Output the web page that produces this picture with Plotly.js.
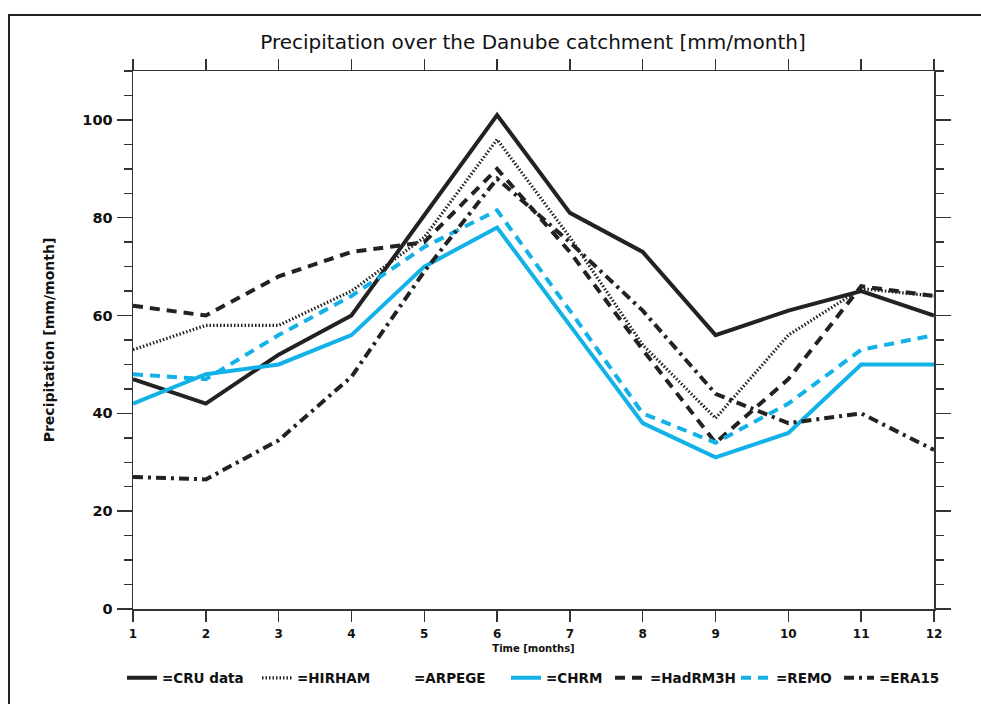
<!DOCTYPE html>
<html>
<head>
<meta charset="utf-8">
<script src="https://cdn.plot.ly/plotly-3.0.1.min.js"></script>
<style>
  html, body { margin: 0; padding: 0; background: #fff; }
  #chart { width: 981px; height: 704px; }
  #frame {
    position: absolute; left: 8px; top: 14px; width: 1000px; height: 720px;
    border-left: 2px solid #222; border-top: 2px solid #222;
    pointer-events: none;
  }
</style>
</head>
<body>
<div id="chart"></div>
<div id="frame"></div>
<script>
// Monthly mean precipitation over the Danube catchment [mm/month]
const months  = [1, 2, 3, 4, 5, 6, 7, 8, 9, 10, 11, 12];
const cru     = [47, 42, 52, 60, 80.5, 101, 81, 73, 56, 61, 65, 60];
const hirham  = [53, 58, 58, 65, 76, 96, 76, 54, 39, 56, 65.5, 64];
const arpege  = [null];
const chrm    = [42, 48, 50, 56, 70, 78, 58, 38, 31, 36, 50, 50];
const hadrm3h = [62, 60, 68, 73, 75, 90, 73, 53, 34, 47, 66, 64];
const remo    = [48, 47, 56, 64, 74, 81.5, 61, 40, 34, 42, 53, 56];
const era15   = [27, 26.5, 34.5, 47.5, 69, 88, 75, 61, 44, 38, 40, 32.5];

const seriesNames = ['=CRU data', '=HIRHAM', '=ARPEGE', '=CHRM', '=HadRM3H', '=REMO', '=ERA15'];
const yTickVals = [0, 20, 40, 60, 80, 100];

const BLACK = '#222222';
const CYAN  = '#12b2e8';
const FONT  = 'DejaVu Sans';

// each series gets its own one-entry legend so the key row can be spaced freely
const legendIds = ['legend', 'legend2', 'legend3', 'legend4', 'legend5', 'legend6', 'legend7'];
const legendLeft = [122, 257, 374, 506, 610, 736, 839];

function line(i, y, color, width, dash) {
  return {
    type: 'scatter', mode: 'lines', name: seriesNames[i], legend: legendIds[i],
    x: y.length === months.length ? months : [null], y: y,
    line: { color: color, width: width, dash: dash },
    hoverinfo: 'skip'
  };
}

const traces = [
  line(0, cru,     BLACK, 4,   'solid'),
  line(1, hirham,  BLACK, 3.2, '1.5px,2px'),
  line(2, arpege,  'rgba(0,0,0,0)', 3, 'solid'),
  line(3, chrm,    CYAN,  4,   'solid'),
  line(4, hadrm3h, BLACK, 4,   '10px,7px'),
  line(5, remo,    CYAN,  4,   '10px,7px'),
  line(6, era15,   BLACK, 4,   '10px,5px,3px,5px')
];

const layout = {
  width: 981, height: 704,
  margin: { l: 133, r: 47, t: 71, b: 95, autoexpand: false },
  paper_bgcolor: '#fff', plot_bgcolor: '#fff',
  showlegend: true,
  title: {
    text: 'Precipitation over the Danube catchment [mm/month]',
    font: { family: FONT, size: 20, color: '#111' },
    x: 0.5433, xanchor: 'center', y: 0.94, yanchor: 'middle'
  },
  xaxis: {
    range: [1, 12], tickmode: 'array', tickvals: months,
    ticktext: months.map(m => '<b>' + m + '</b>'),
    ticks: 'outside', ticklen: 11, tickwidth: 1.5, tickcolor: '#333',
    showline: true, linecolor: '#333', linewidth: 1.5, mirror: 'allticks',
    showgrid: false, zeroline: false,
    tickfont: { family: FONT, size: 12, color: '#111' },
    ticklabelstandoff: 2,
    title: { text: '<b>Time [months]</b>', font: { family: FONT, size: 10, color: '#111' }, standoff: 5 }
  },
  yaxis: {
    range: [0, 110], tickmode: 'array', tickvals: yTickVals,
    ticktext: yTickVals.map(v => '<b>' + v + '</b>'),
    ticks: 'outside', ticklen: 15, tickwidth: 1.5, tickcolor: '#333',
    minor: { dtick: 5, ticks: 'outside', ticklen: 8, tickwidth: 1.5, tickcolor: '#333', showgrid: false },
    showline: true, linecolor: '#333', linewidth: 1.5, mirror: 'allticks',
    showgrid: false, zeroline: false,
    tickfont: { family: FONT, size: 14.5, color: '#111' },
    ticklabelstandoff: 1,
    title: { text: '<b>Precipitation [mm/month]</b>', font: { family: FONT, size: 14, color: '#111' }, standoff: 24 }
  }
};

legendIds.forEach((id, i) => {
  layout[id] = {
    orientation: 'h',
    xref: 'container', x: legendLeft[i] / 981, xanchor: 'left',
    yref: 'container', y: 1 - 678 / 704, yanchor: 'middle',
    font: { family: FONT, size: 13.5, color: '#111', weight: 'bold' },
    bgcolor: 'rgba(0,0,0,0)', borderwidth: 0,
    itemclick: false, itemdoubleclick: false
  };
});

Plotly.newPlot('chart', traces, layout, { staticPlot: true, displayModeBar: false });
</script>
</body>
</html>
